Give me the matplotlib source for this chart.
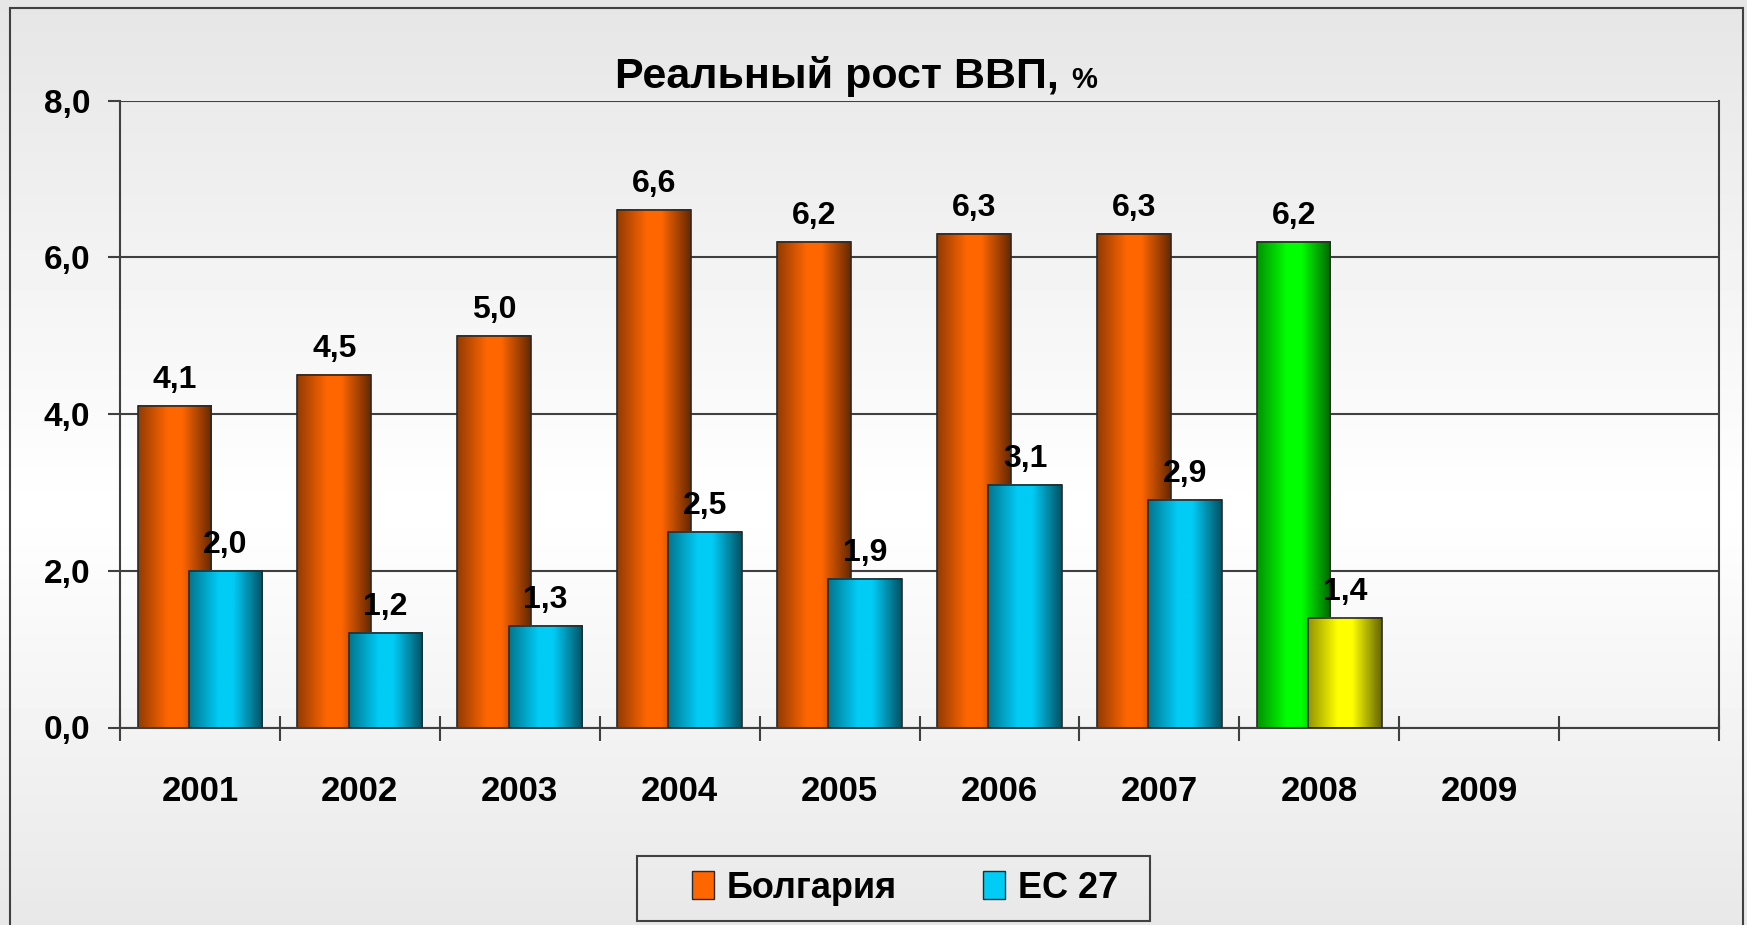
import numpy as np
import matplotlib.pyplot as plt
from matplotlib.colors import to_rgb
from matplotlib.patches import Rectangle, Patch

plt.rcParams['font.family'] = ['Liberation Sans', 'DejaVu Sans']
plt.rcParams['font.weight'] = 'bold'

# data
years = ['2001', '2002', '2003', '2004', '2005', '2006', '2007', '2008', '2009', '']
bulgaria = [4.1, 4.5, 5.0, 6.6, 6.2, 6.3, 6.3, 6.2]
eu27 = [2.0, 1.2, 1.3, 2.5, 1.9, 3.1, 2.9, 1.4]
yticks = [0, 2, 4, 6, 8]
highlight_year = '2008'

BG_COLOR = '#ff6600'
EU_COLOR = '#00ccf5'
BG_HI = '#00ff00'
EU_HI = '#ffff00'
LINE = '#404040'
W = 1747
H = 925


def fmt(v):
    return f'{v:.1f}'.replace('.', ',')


def shade(color, n=80):
    # cylinder-like horizontal gradient, dark edges, bright middle
    base = np.array(to_rgb(color))
    t = np.linspace(0, 1, n)
    f = np.interp(t, [0, 0.4, 0.6, 1], [0.58, 1.0, 1.0, 0.4])
    return (base[None, :] * f[:, None])[None, :, :]


fig = plt.figure(figsize=(W / 100, H / 100), dpi=100)

# page background gradient
bg = fig.add_axes([0, 0, 1, 1], zorder=-10)
yy = np.linspace(0, 1, 200)
g = np.interp(yy, [0, 0.55, 1], [0.90, 1.0, 0.91])
bg.imshow(np.repeat(g[:, None], 2, axis=1), cmap='gray', vmin=0, vmax=1,
          aspect='auto', extent=[0, 1, 0, 1])
bg.set_axis_off()

ax = fig.add_axes([120 / W, 1 - 727.5 / H, (1719 - 120) / W, (727.5 - 100.7) / H])
ax.patch.set_visible(False)

x = np.arange(len(bulgaria))
width = 0.46
off = 0.16

for series, col, hi, z, sign in [(bulgaria, BG_COLOR, BG_HI, 2, -1),
                                 (eu27, EU_COLOR, EU_HI, 3, 1)]:
    bars = ax.bar(x + sign * off, series, width, facecolor='none',
                  edgecolor='#2a2a2a', linewidth=1.2, zorder=z + 0.1)
    for i, (b, v) in enumerate(zip(bars, series)):
        c = hi if years[i] == highlight_year else col
        ax.imshow(shade(c), extent=[b.get_x(), b.get_x() + b.get_width(), 0, v],
                  aspect='auto', zorder=z, interpolation='bilinear')
        ax.annotate(fmt(v), xy=(b.get_x() + b.get_width() / 2, v), xytext=(0, 13),
                    textcoords='offset points', ha='center', va='baseline',
                    fontsize=23, fontweight='bold', zorder=5)

ax.set_xlim(-0.5, len(years) - 0.5)
ax.set_ylim(0, 8)

ax.set_yticks(yticks)
ax.set_yticklabels([fmt(v) for v in yticks])
ax.yaxis.grid(True, color=LINE, linewidth=1.5)
ax.set_axisbelow(True)
ax.tick_params(axis='y', direction='out', length=8.6, width=1.5, color=LINE,
               pad=13, labelsize=24)

ax.set_xticks(np.arange(-0.5, len(years), 1))
ax.set_xticklabels([])
ax.set_xticks(np.arange(len(years)), minor=True)
ax.set_xticklabels(years, minor=True)
ax.tick_params(axis='x', which='major', direction='inout', length=18, width=1.5,
               color=LINE)
ax.tick_params(axis='x', which='minor', length=0, pad=34, labelsize=25)

ax.spines['top'].set_visible(False)
for s in ['left', 'right', 'bottom']:
    ax.spines[s].set_color(LINE)
    ax.spines[s].set_linewidth(1.5)

# title, with a smaller percent sign
t = fig.text(615 / W, 1 - 88 / H, 'Реальный рост ВВП,', fontsize=31,
             fontweight='bold', ha='left', va='baseline')
fig.add_artist(plt.Annotation('%', xy=(1, 1 - 88 / H), xycoords=(t, 'figure fraction'),
                              xytext=(9, 0), textcoords='offset points',
                              fontsize=21, fontweight='bold', ha='left', va='baseline'))

handles = [Patch(facecolor=BG_COLOR, edgecolor='#2a2a2a'),
           Patch(facecolor=EU_COLOR, edgecolor='#2a2a2a')]
leg = fig.legend(handles, ['Болгария', 'ЕС 27'], loc='center',
                 bbox_to_anchor=(905 / W, 1 - 888 / H), ncol=2, frameon=False,
                 prop={'size': 26, 'weight': 'bold'},
                 handlelength=0.6, handleheight=0.8, handletextpad=0.35,
                 columnspacing=2.4, borderpad=0.4, borderaxespad=0)

# legend box is wider than the entries, drawn by hand
fig.add_artist(Rectangle((637 / W, 1 - 920.5 / H), (1150 - 637) / W, (920.5 - 856) / H,
                         transform=fig.transFigure, fill=False,
                         edgecolor=LINE, linewidth=1.5))

# outer frame around the chart area
fig.add_artist(Rectangle((10 / W, -0.05), (1743 - 10) / W, 1 - 8 / H + 0.05,
                         transform=fig.transFigure, fill=False,
                         edgecolor=LINE, linewidth=1.5))

fig.savefig('out.png', dpi=100)
